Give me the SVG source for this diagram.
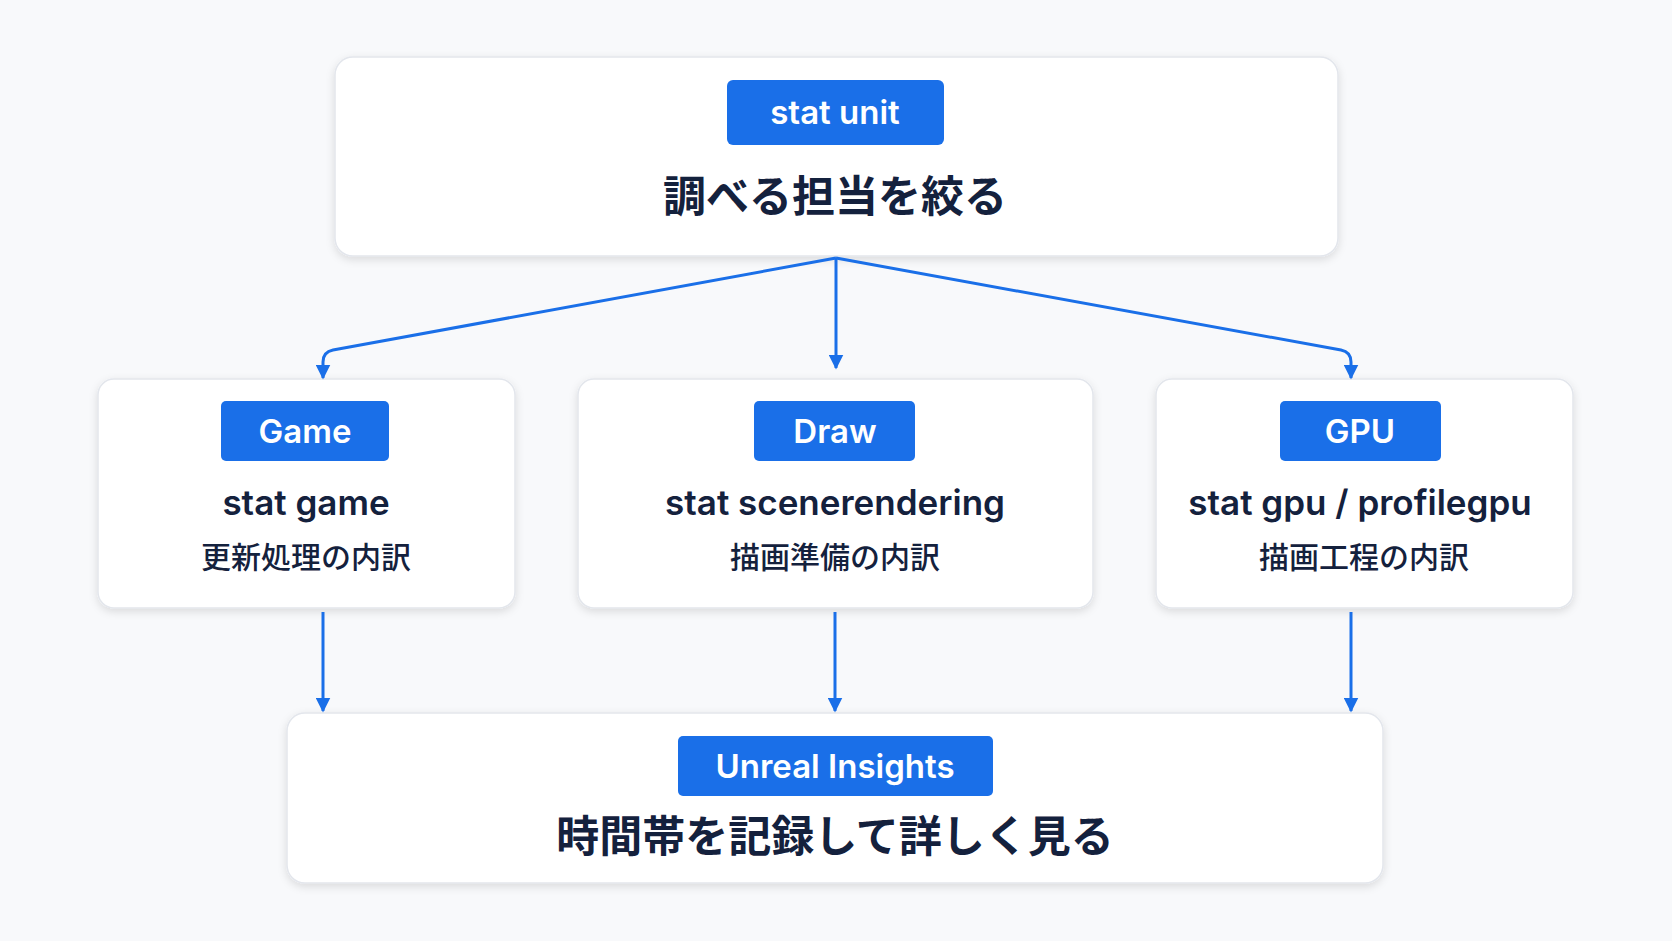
<svg xmlns="http://www.w3.org/2000/svg" width="1672" height="941" viewBox="0 0 1672 941">
<defs>
<filter id="sh" x="-10%" y="-10%" width="120%" height="130%"><feDropShadow dx="0" dy="3" stdDeviation="4" flood-color="#000" flood-opacity="0.12"/></filter>
<marker id="ar" viewBox="0 0 10 10" refX="9" refY="5" markerWidth="5" markerHeight="5" orient="auto"><path d="M0,0 L10,5 L0,10 z" fill="#1a6fe8"/></marker>
</defs>
<style>
.box{fill:#fff;stroke:#e3e6ec;stroke-width:1.5;filter:url(#sh)}
.badge{fill:#1a6fe8}
.bt{fill:#fff;font-family:Inter,"Noto Sans",sans-serif;font-weight:600;font-size:33px;text-anchor:middle}
.t1{fill:#14213d;font-family:Inter,"Noto Sans CJK JP",sans-serif;font-weight:700;font-size:43px;text-anchor:middle}
.t2{fill:#14213d;font-family:Inter,"Noto Sans CJK JP",sans-serif;font-weight:600;font-size:35px;text-anchor:middle}
.t3{fill:#14213d;font-family:"Noto Sans CJK JP",sans-serif;font-weight:500;font-size:30px;text-anchor:middle}
.c{fill:none;stroke:#1a6fe8;stroke-width:3;marker-end:url(#ar)}
</style>
<rect width="1672" height="941" fill="#f8f9fb"/>
<g id="top"><rect class="box" x="335" y="57" width="1003" height="199" rx="18"/><rect class="badge" x="727" y="80" width="217" height="65" rx="6"/><text class="bt" x="835" y="124">stat unit</text><text class="t1" x="835" y="212">調べる担当を絞る</text></g>
<g id="game"><rect class="box" x="98" y="379" width="417" height="229" rx="16"/><rect class="badge" x="221" y="401" width="168" height="60" rx="5"/><text class="bt" x="305" y="443">Game</text><text class="t2" x="306" y="515">stat game</text><text class="t3" x="306" y="568">更新処理の内訳</text></g>
<g id="draw"><rect class="box" x="578" y="379" width="515" height="229" rx="16"/><rect class="badge" x="754" y="401" width="161" height="60" rx="5"/><text class="bt" x="835" y="443">Draw</text><text class="t2" x="835" y="515">stat scenerendering</text><text class="t3" x="835" y="568">描画準備の内訳</text></g>
<g id="gpu"><rect class="box" x="1156" y="379" width="417" height="229" rx="16"/><rect class="badge" x="1280" y="401" width="161" height="60" rx="5"/><text class="bt" x="1360" y="443">GPU</text><text class="t2" x="1360" y="515">stat gpu / profilegpu</text><text class="t3" x="1364" y="568">描画工程の内訳</text></g>
<g id="insights"><rect class="box" x="287" y="713" width="1096" height="170" rx="18"/><rect class="badge" x="678" y="736" width="315" height="60" rx="5"/><text class="bt" x="835" y="778">Unreal Insights</text><text class="t1" x="835" y="852">時間帯を記録して詳しく見る</text></g>
<g id="connectors">
<path class="c" d="M836,258 L333,350 Q323,352 323,362 L323,378"/>
<path class="c" d="M836,258 L836,368"/>
<path class="c" d="M836,258 L1341,350 Q1351,352 1351,362 L1351,378"/>
<path class="c" d="M323,612 L323,711"/>
<path class="c" d="M835,612 L835,711"/>
<path class="c" d="M1351,612 L1351,711"/>
</g>
</svg>
